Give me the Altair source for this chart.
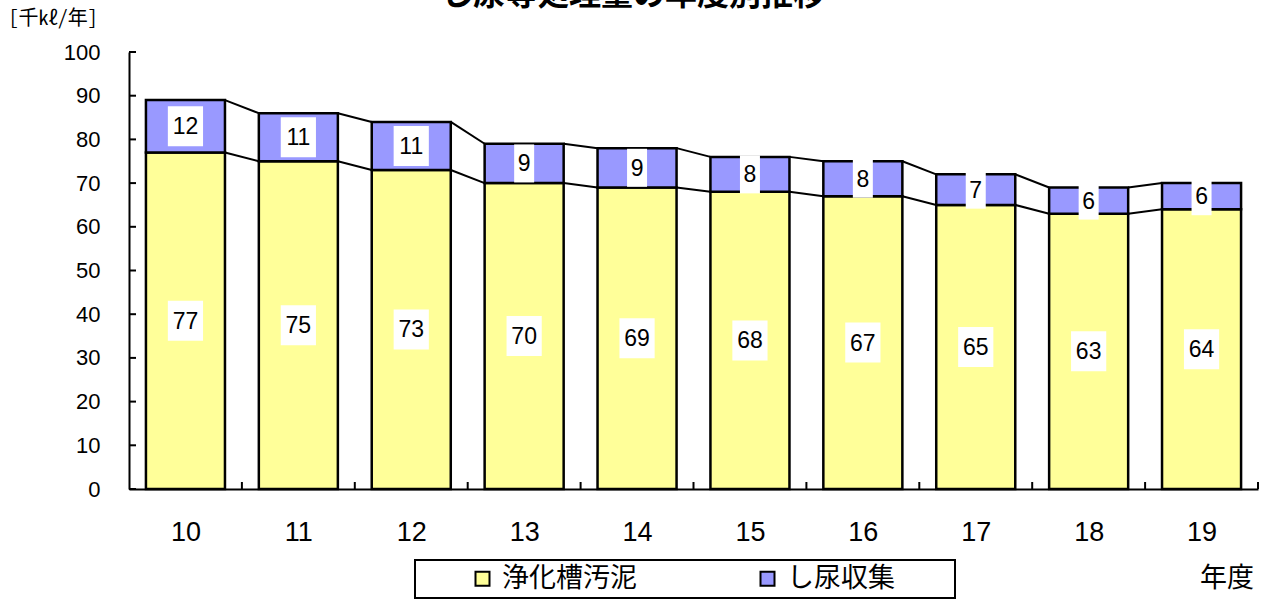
import altair as alt
import pandas as pd

# ---- data ----
years = ["10", "11", "12", "13", "14", "15", "16", "17", "18", "19"]
sludge = [77, 75, 73, 70, 69, 68, 67, 65, 63, 64]        # 浄化槽汚泥
night_soil = [12, 11, 11, 9, 9, 8, 8, 7, 6, 6]            # し尿収集
series = ["浄化槽汚泥", "し尿収集"]
colors = ["#FFFF99", "#9999FF"]
y_ticks = list(range(0, 101, 10))
title_text = "し尿等処理量の年度別推移"
unit_text = "[千kℓ/年]"
xlab_text = "年度"

HW = 0.35  # half bar width in category units

# ---- tables built from the arrays ----
rows = []
for i, (a, b) in enumerate(zip(sludge, night_soil)):
    rows.append(dict(idx=i, series=series[0], lo=0, hi=a, val=a))
    rows.append(dict(idx=i, series=series[1], lo=a, hi=a + b, val=b))
bars_df = pd.DataFrame(rows)

tops = {series[0]: sludge, series[1]: [a + b for a, b in zip(sludge, night_soil)]}
conn = []
for s in series:
    t = tops[s]
    for i in range(len(years) - 1):
        conn.append(dict(idx=i, series=s, ya=t[i], yb=t[i + 1]))
conn_df = pd.DataFrame(conn)

ytick_df = pd.DataFrame({"v": y_ticks})
xtick_df = pd.DataFrame({"b": [i + 0.5 for i in range(len(years))]})
one = pd.DataFrame({"k": [0]})

label_expr = "[" + ",".join("'%s'" % y for y in years) + "][datum.value]"

xs = alt.Scale(domain=[-0.5, len(years) - 0.5], nice=False, zero=False)
ys = alt.Scale(domain=[0, 100], nice=False, zero=True)

x_axis = alt.Axis(values=list(range(len(years))), labelExpr=label_expr, ticks=False,
                  grid=False, title=None, domainColor="black", domainWidth=2,
                  labelFont="Liberation Sans", labelFontSize=27, labelColor="black",
                  labelPadding=30)
y_axis = alt.Axis(values=y_ticks, ticks=False, grid=False, domainColor="black", domainWidth=2,
                  labelFont="Liberation Sans", labelFontSize=22, labelColor="black",
                  labelPadding=29, title=unit_text, titleAngle=0, titleAlign="left",
                  titleBaseline="middle", titleX=-121, titleY=-34,
                  titleFont="Noto Sans Mono CJK JP, Noto Sans CJK JP", titleFontSize=20,
                  titleFontWeight="normal", titleColor="black")

color = alt.Color("series:N", scale=alt.Scale(domain=series, range=colors),
                  legend=alt.Legend(orient="none", direction="horizontal", title=None,
                                    legendX=340, legendY=513, padding=0,
                                    symbolType="square", symbolSize=196,
                                    symbolStrokeColor="black", symbolStrokeWidth=2,
                                    labelFont="Noto Sans CJK JP", labelFontSize=27,
                                    labelColor="black", labelOffset=6, columnPadding=117))

legend_box = alt.Chart(one).mark_rect(fill="white", stroke="black", strokeWidth=2).encode(
    x=alt.value(286), x2=alt.value(826), y=alt.value(508), y2=alt.value(546))

connectors = alt.Chart(conn_df).mark_rule(color="black", strokeWidth=2).transform_calculate(
    xa="datum.idx + %f" % HW, xb="datum.idx + 1 - %f" % HW
).encode(
    x=alt.X("xa:Q", scale=xs, axis=x_axis), x2="xb:Q",
    y=alt.Y("ya:Q", scale=ys, axis=y_axis), y2="yb:Q")

bars = alt.Chart(bars_df).mark_rect(stroke="black", strokeWidth=2.5).transform_calculate(
    x0="datum.idx - %f" % HW, x1="datum.idx + %f" % HW
).encode(
    x=alt.X("x0:Q", scale=xs, axis=x_axis), x2="x1:Q",
    y=alt.Y("lo:Q", scale=ys, axis=y_axis), y2="hi:Q",
    color=color)

ytick_rules = alt.Chart(ytick_df).mark_rule(color="black", strokeWidth=2).encode(
    y=alt.Y("v:Q", scale=ys, axis=y_axis), x=alt.value(0), x2=alt.value(7))

xtick_rules = alt.Chart(xtick_df).mark_rule(color="black", strokeWidth=2).encode(
    x=alt.X("b:Q", scale=xs, axis=x_axis), y=alt.value(437), y2=alt.value(430))

box2 = "M-0.88,-1H0.88V1H-0.88Z"
box1 = "M-0.5,-0.95H0.5V0.95H-0.5Z"
label_boxes = alt.Chart(bars_df).mark_point(filled=True, fill="white", opacity=1,
                                            strokeWidth=0).transform_calculate(
    mid="(datum.lo + datum.hi) / 2"
).encode(
    x=alt.X("idx:Q", scale=xs, axis=x_axis),
    y=alt.Y("mid:Q", scale=ys, axis=y_axis),
    shape=alt.condition("datum.val >= 10", alt.value(box2), alt.value(box1)),
    size=alt.value(1600))

label_text = alt.Chart(bars_df).mark_text(font="Liberation Sans", fontSize=23, color="black",
                                          align="center", baseline="middle", dy=1
                                          ).transform_calculate(
    mid="(datum.lo + datum.hi) / 2"
).encode(
    x=alt.X("idx:Q", scale=xs, axis=x_axis),
    y=alt.Y("mid:Q", scale=ys, axis=y_axis),
    text=alt.Text("val:Q", format="d"))

title = alt.Chart(one).mark_text(text=title_text, font="Noto Sans CJK JP", fontSize=32,
                                 fontWeight="bold", color="black", align="center",
                                 baseline="alphabetic").encode(
    x=alt.value(504), y=alt.value(-47))

xlab = alt.Chart(one).mark_text(text=xlab_text, font="Noto Sans CJK JP", fontSize=27,
                                color="black", align="center", baseline="middle").encode(
    x=alt.value(1098), y=alt.value(527))

chart = alt.layer(
    legend_box, connectors, bars, ytick_rules, xtick_rules, label_boxes, label_text, title, xlab
).properties(
    width=1129, height=437,
    autosize=alt.AutoSizeParams(type="none"),
    padding={"left": 129, "top": 52, "right": 8, "bottom": 111},
    background="white"
).configure_view(stroke=None)

chart.save("out.html", embed_options={"renderer": "svg", "actions": False})
